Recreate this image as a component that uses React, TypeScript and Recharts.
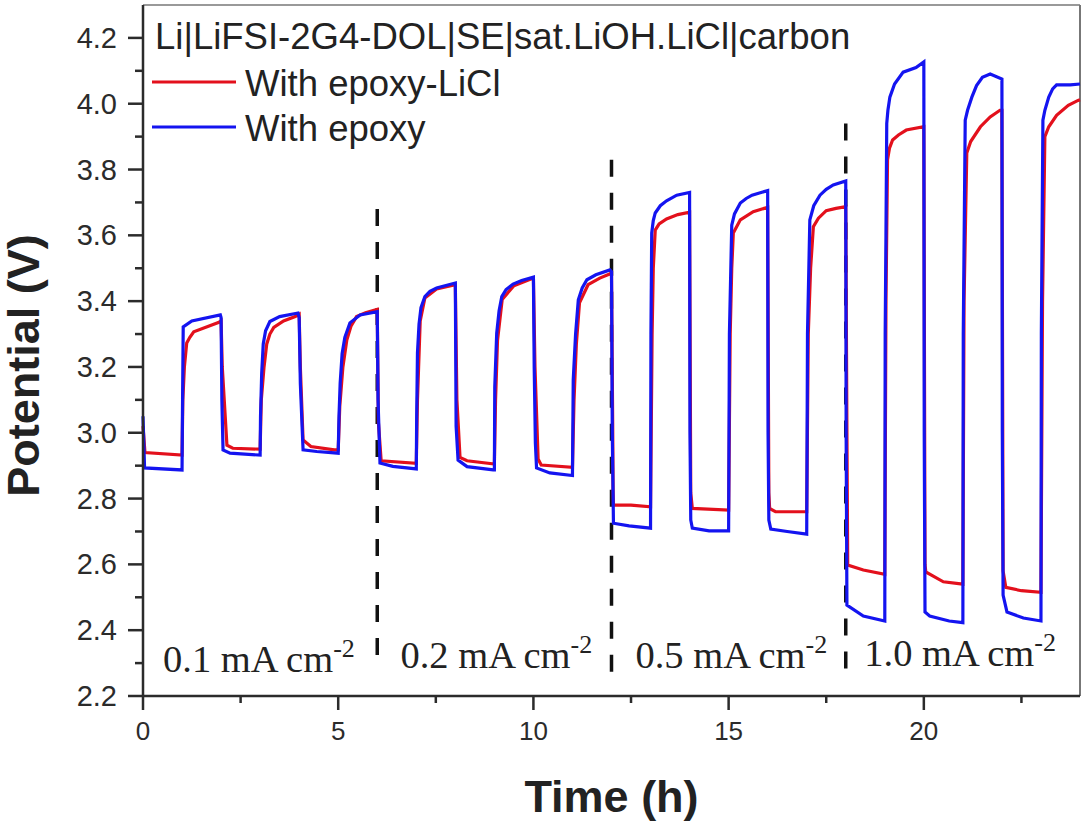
import React from 'react';
import { LineChart, Line, XAxis, YAxis, ReferenceLine, ReferenceDot, Legend } from 'recharts';

const title = 'Li|LiFSI-2G4-DOL|SE|sat.LiOH.LiCl|carbon';
const seriesNames = ['With epoxy-LiCl', 'With epoxy'];
const xTicks = [0, 2.5, 5, 7.5, 10, 12.5, 15, 17.5, 20, 22.5];
const yTicks = [2.2, 2.3, 2.4, 2.5, 2.6, 2.7, 2.8, 2.9, 3.0, 3.1, 3.2, 3.3, 3.4, 3.5, 3.6, 3.7, 3.8, 3.9, 4.0, 4.1, 4.2];
const dividers = [
  { x: 6, top: 3.68, bottom: 2.28 },
  { x: 12, top: 3.83, bottom: 2.25 },
  { x: 18, top: 3.94, bottom: 2.27 },
];
const regions = [
  { x: 2.97, text: '0.1 mA cm', y: 2.273 },
  { x: 9.05, text: '0.2 mA cm', y: 2.285 },
  { x: 15.07, text: '0.5 mA cm', y: 2.285 },
  { x: 20.93, text: '1.0 mA cm', y: 2.29 },
];

const redCurve = [
  [0, 3.02], [0.05, 2.94], [1, 2.932], [1.02, 3.1], [1.06, 3.2], [1.12, 3.273], [1.2, 3.29], [1.3, 3.307], [1.93, 3.335], [2, 3.34],
  [2.03, 3.2], [2.15, 2.962], [2.3, 2.953], [3, 2.95], [3.03, 3.1], [3.1, 3.2], [3.17, 3.27], [3.25, 3.3], [3.35, 3.32], [3.6, 3.34], [3.9, 3.353], [4, 3.36],
  [4.03, 3.2], [4.1, 2.978], [4.3, 2.958], [4.9, 2.948], [5, 2.948], [5.04, 3.08], [5.12, 3.2], [5.22, 3.282], [5.33, 3.325], [5.47, 3.353], [5.7, 3.365], [6, 3.375],
  [6.03, 3.03], [6.1, 2.915], [7, 2.907], [7.03, 3.1], [7.1, 3.34], [7.22, 3.41], [7.52, 3.437], [8, 3.45],
  [8.04, 3.1], [8.12, 2.925], [8.3, 2.915], [9, 2.905], [9.03, 3.1], [9.08, 3.28], [9.2, 3.405], [9.5, 3.447], [10, 3.47],
  [10.04, 3.2], [10.12, 2.92], [10.2, 2.902], [11, 2.895], [11.04, 3.1], [11.1, 3.27], [11.18, 3.395], [11.4, 3.45], [11.7, 3.47], [12, 3.485],
  [12.03, 3.03], [12.04, 2.826], [12.05, 2.78], [12.5, 2.78], [13, 2.775], [13.04, 3.3], [13.07, 3.5], [13.12, 3.616], [13.22, 3.635], [13.41, 3.65], [13.7, 3.663], [14, 3.67],
  [14.03, 2.817], [14.07, 2.77], [15, 2.765], [15.04, 3.3], [15.08, 3.5], [15.12, 3.607], [15.3, 3.647], [15.63, 3.672], [16, 3.685],
  [16.03, 2.817], [16.05, 2.77], [16.2, 2.76], [17, 2.76], [17.04, 3.3], [17.1, 3.5], [17.17, 3.626], [17.3, 3.652], [17.5, 3.675], [17.75, 3.682], [18, 3.687],
  [18.03, 3.0], [18.05, 2.598], [18.45, 2.583], [19, 2.57], [19.03, 3.4], [19.07, 3.83], [19.12, 3.865], [19.2, 3.89], [19.35, 3.905], [19.55, 3.92], [20, 3.93],
  [20.03, 2.6], [20.05, 2.577], [20.5, 2.547], [21, 2.54], [21.03, 3.4], [21.1, 3.85], [21.2, 3.885], [21.45, 3.93], [21.7, 3.96], [21.95, 3.98], [22, 3.98],
  [22.03, 2.58], [22.1, 2.53], [22.5, 2.52], [23, 2.515], [23.04, 3.4], [23.1, 3.9], [23.2, 3.93], [23.4, 3.965], [23.7, 3.995], [23.95, 4.01], [24, 4.012],
];

const blueCurve = [
  [0, 3.05], [0.04, 2.893], [1, 2.887], [1.01, 3.05], [1.03, 3.322], [1.25, 3.34], [1.98, 3.358], [2, 3.35],
  [2.02, 3.1], [2.05, 2.948], [2.23, 2.938], [3, 2.932], [3.01, 3.05], [3.04, 3.18], [3.08, 3.27], [3.14, 3.31], [3.25, 3.338], [3.5, 3.353], [3.97, 3.364], [4, 3.35],
  [4.03, 3.15], [4.1, 2.948], [4.45, 2.943], [5, 2.938], [5.02, 3.05], [5.05, 3.15], [5.1, 3.24], [5.17, 3.29], [5.3, 3.334], [5.56, 3.358], [6, 3.368],
  [6.02, 3.1], [6.07, 2.908], [6.4, 2.898], [7, 2.89], [7.01, 3.05], [7.03, 3.242], [7.07, 3.33], [7.12, 3.38], [7.22, 3.414], [7.35, 3.43], [7.52, 3.44], [8, 3.455],
  [8.02, 3.02], [8.07, 2.917], [8.3, 2.897], [8.97, 2.887], [9, 2.887], [9.01, 3.14], [9.06, 3.303], [9.12, 3.37], [9.19, 3.414], [9.3, 3.435], [9.48, 3.452], [9.7, 3.463], [10, 3.473],
  [10.02, 3.2], [10.05, 2.969], [10.08, 2.893], [10.42, 2.878], [11, 2.87], [11.02, 3.16], [11.08, 3.3], [11.15, 3.404], [11.25, 3.44], [11.37, 3.465], [11.6, 3.48], [11.96, 3.495], [12, 3.49],
  [12.02, 3.0], [12.05, 2.725], [12.45, 2.717], [13, 2.71], [13.01, 3.3], [13.03, 3.607], [13.07, 3.645], [13.12, 3.668], [13.25, 3.69], [13.41, 3.705], [13.67, 3.722], [14, 3.73],
  [14.01, 3.0], [14.03, 2.735], [14.07, 2.71], [14.5, 2.702], [15, 2.702], [15.02, 3.3], [15.08, 3.631], [15.15, 3.665], [15.3, 3.698], [15.45, 3.712], [15.6, 3.722], [16, 3.736],
  [16.01, 3.0], [16.03, 2.735], [16.08, 2.707], [16.5, 2.7], [17, 2.692], [17.02, 3.3], [17.08, 3.647], [17.18, 3.69], [17.34, 3.722], [17.5, 3.74], [17.68, 3.753], [18, 3.765],
  [18.01, 3.0], [18.03, 2.476], [18.45, 2.443], [19, 2.428], [19.01, 3.3], [19.03, 3.6], [19.05, 3.94], [19.08, 3.98], [19.13, 4.02], [19.25, 4.06], [19.47, 4.096], [19.8, 4.11], [20, 4.127],
  [20.01, 3.0], [20.03, 2.455], [20.15, 2.443], [20.65, 2.428], [21, 2.423], [21.01, 3.3], [21.06, 3.95], [21.12, 3.98], [21.23, 4.02], [21.35, 4.055], [21.5, 4.08], [21.7, 4.09], [22, 4.075],
  [22.01, 3.0], [22.03, 2.507], [22.13, 2.455], [22.55, 2.437], [23, 2.428], [23.01, 3.3], [23.05, 3.95], [23.1, 3.98], [23.2, 4.02], [23.3, 4.045], [23.4, 4.057], [23.75, 4.057], [24, 4.06],
];

const redData = redCurve.map(([t, v]) => ({ t, v }));
const blueData = blueCurve.map(([t, v]) => ({ t, v }));

const INK = '#2b2b2b';
const SANS = '"Liberation Sans", Arial, sans-serif';

const XTick = (p: any) => {
  const major = p.payload.value % 5 === 0;
  return (
    <g>
      <line x1={p.x} x2={p.x} y1={p.y} y2={p.y + (major ? 14 : 7)} stroke={INK} strokeWidth={2.5} />
      {major && (
        <text x={p.x} y={p.y + 44} textAnchor="middle" fontSize={26} fontFamily={SANS} fill={INK}>
          {p.payload.value}
        </text>
      )}
    </g>
  );
};

const YTick = (p: any) => {
  const major = Math.round(p.payload.value * 10) % 2 === 0;
  return (
    <g>
      <line x1={p.x} x2={p.x - (major ? 15 : 8)} y1={p.y} y2={p.y} stroke={INK} strokeWidth={2.5} />
      {major && (
        <text x={p.x - 26} y={p.y + 10} textAnchor="end" fontSize={29} fontFamily={SANS} fill={INK}>
          {p.payload.value.toFixed(1)}
        </text>
      )}
    </g>
  );
};

const YTitle = ({ viewBox }: any) => {
  const cy = viewBox.y + viewBox.height / 2 + 15;
  const bx = viewBox.x + 39;
  return (
    <text x={bx} y={cy} transform={`rotate(-90 ${bx} ${cy})`} textAnchor="middle" fontSize={45} fontWeight={700} fontFamily={SANS} fill="#222">
      Potential (V)
    </text>
  );
};

const regionShape = (text: string) => (p: any) => (
  <text x={p.cx} y={p.cy} textAnchor="middle" fontFamily='"Liberation Serif", serif' fontSize={38.5} fill="#222">
    {text}
    <tspan fontSize={26} dy={-15}>-2</tspan>
  </text>
);

const LegendBox = ({ payload }: any) => (
  <div style={{ fontFamily: SANS, color: '#222', width: 720 }}>
    <div style={{ fontSize: 36.5, lineHeight: '36px', whiteSpace: 'nowrap', marginBottom: 6 }}>{title}</div>
    {seriesNames.map((name) => {
      const e = (payload || []).find((x: any) => x.value === name);
      return (
        <div key={name} style={{ display: 'flex', alignItems: 'center', height: 45, fontSize: 36.5 }}>
          <svg width={90} height={6} style={{ overflow: 'visible' }}>
            <line x1={-3} x2={81} y1={1} y2={1} stroke={e ? e.color : '#000'} strokeWidth={3} />
          </svg>
          <span>{name}</span>
        </div>
      );
    })}
  </div>
);

export default function App() {
  return (
    <div style={{ position: 'absolute', left: 0, top: 0, width: 1086, height: 826, background: '#fff' }}>
      <LineChart width={1086} height={826} margin={{ top: 5, right: 6, bottom: 0, left: 0 }}>
        <XAxis
          dataKey="t"
          type="number"
          domain={[0, 24]}
          ticks={xTicks}
          interval={0}
          height={130}
          allowDuplicatedCategory={false}
          tickLine={false}
          tickSize={0}
          tickMargin={0}
          tick={<XTick />}
          axisLine={{ stroke: INK, strokeWidth: 2.5 }}
          label={{ value: 'Time (h)', position: 'insideBottom', offset: 14, fontSize: 45, fontWeight: 700, fontFamily: SANS, fill: '#222' }}
        />
        <YAxis
          type="number"
          domain={[2.2, 4.3]}
          ticks={yTicks}
          interval={0}
          width={143}
          tickLine={false}
          tickSize={0}
          tickMargin={0}
          tick={<YTick />}
          axisLine={{ stroke: INK, strokeWidth: 2.5 }}
          label={{ content: <YTitle /> }}
        />
        <ReferenceLine y={4.3} stroke="#777" strokeWidth={1.5} />
        <ReferenceLine x={24} stroke="#777" strokeWidth={2} />
        {dividers.map((d) => (
          <ReferenceLine
            key={d.x}
            segment={[{ x: d.x, y: d.top }, { x: d.x, y: d.bottom }]}
            stroke="#111"
            strokeWidth={3.5}
            strokeDasharray="17 16"
          />
        ))}
        {regions.map((r) => (
          <ReferenceDot key={r.x} x={r.x} y={r.y} r={0} shape={regionShape(r.text)} />
        ))}
        <Line data={redData} dataKey="v" name={seriesNames[0]} stroke="#e3101c" strokeWidth={3.2} dot={false} type="linear" isAnimationActive={false} />
        <Line data={blueData} dataKey="v" name={seriesNames[1]} stroke="#1414f0" strokeWidth={3.2} dot={false} type="linear" isAnimationActive={false} />
        <Legend content={<LegendBox />} wrapperStyle={{ position: 'absolute', left: 155, top: 19, width: 720, height: 0, margin: 0, overflow: 'visible' }} />
      </LineChart>
    </div>
  );
}
